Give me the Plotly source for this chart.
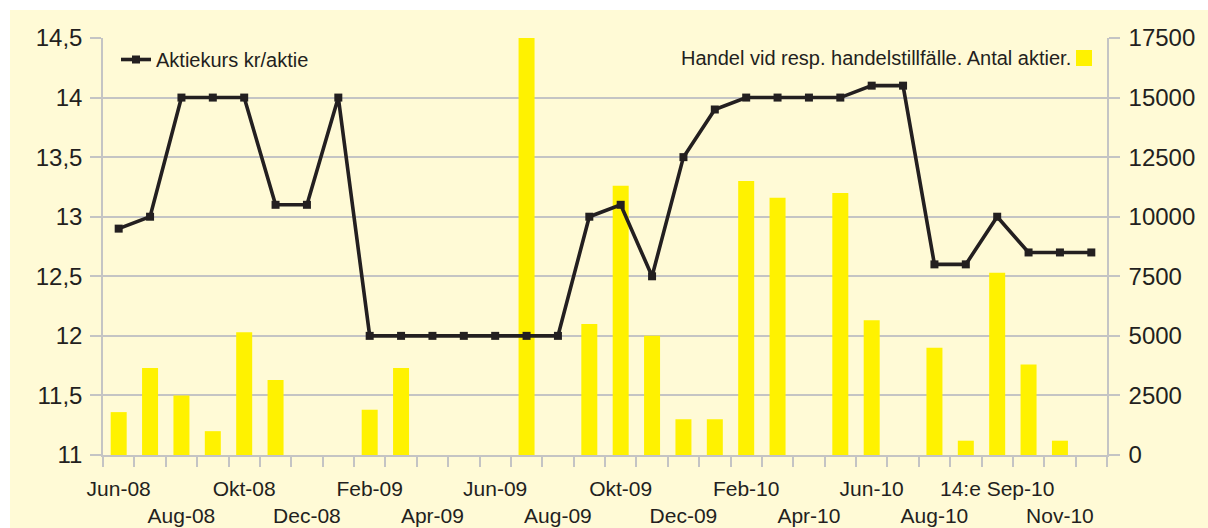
import plotly.graph_objects as go

categories = ["Jun-08", "Jul-08", "Aug-08", "Sep-08", "Okt-08", "Nov-08", "Dec-08", "Jan-09",
              "Feb-09", "Mar-09", "Apr-09", "Maj-09", "Jun-09", "Jul-09", "Aug-09", "Sep-09",
              "Okt-09", "Nov-09", "Dec-09", "Jan-10", "Feb-10", "Mar-10", "Apr-10", "Maj-10",
              "Jun-10", "Jul-10", "Aug-10", "Sep-10", "14:e Sep-10", "Okt-10", "Nov-10", "Dec-10"]

kurs = [12.9, 13.0, 14.0, 14.0, 14.0, 13.1, 13.1, 14.0,
        12.0, 12.0, 12.0, 12.0, 12.0, 12.0, 12.0, 13.0,
        13.1, 12.5, 13.5, 13.9, 14.0, 14.0, 14.0, 14.0,
        14.1, 14.1, 12.6, 12.6, 13.0, 12.7, 12.7, 12.7]

handel = [1800, 3650, 2500, 1000, 5150, 3150, None, None,
          1900, 3650, None, None, None, 17500, None, 5500,
          11300, 5000, 1500, 1500, 11500, 10800, None, 11000,
          5650, None, 4500, 600, 7650, 3800, 600, None]

line_name = "Aktiekurs kr/aktie"
bar_name = "Handel vid resp. handelstillfälle. Antal aktier."

CREAM = "#FFFAD6"
YELLOW = "#FFF200"
DARK = "#231F20"
GRID = "#C4C4C4"

xs = list(range(len(categories)))
tickvals = xs[::2]
ticktext = [(c if i % 2 == 0 else "<br>" + c) for i, c in enumerate(categories[::2])]

fig = go.Figure()
fig.add_trace(go.Bar(x=xs, y=handel, name=bar_name, marker=dict(color=YELLOW, line=dict(width=0)),
                     width=0.51, yaxis="y", showlegend=False))
fig.add_trace(go.Scatter(x=xs, y=kurs, name=line_name, mode="lines+markers",
                         line=dict(color=DARK, width=3.6),
                         marker=dict(symbol="square", size=8, color=DARK),
                         yaxis="y2"))

W, H = 1208, 528
L, R, T, B = 103, 1107, 38, 455

def px(x):
    return (x - L) / (R - L)

def py(y):
    return (B - y) / (B - T)

fig.update_layout(
    width=W, height=H,
    margin=dict(l=L, r=W - R, t=T, b=H - B, autoexpand=False),
    paper_bgcolor="white",
    plot_bgcolor=CREAM,
    separators=",.",
    font=dict(family="Liberation Sans, Arial, sans-serif", color="#231F20"),
    bargap=0.49,
    xaxis=dict(range=[-0.5, len(categories) - 0.5], tickmode="array", tickvals=tickvals,
               ticktext=ticktext, ticks="outside", ticklen=10, tickcolor="rgba(0,0,0,0)",
               tickfont=dict(size=21), showgrid=False, showline=True, linecolor=GRID,
               linewidth=1.5, zeroline=False, tickangle=0, ticklabelstandoff=4, automargin=False,
               minor=dict(tickmode="linear", tick0=0.5, dtick=1, ticks="outside", ticklen=10,
                          tickcolor=GRID, tickwidth=1.5, showgrid=False)),
    yaxis=dict(side="right", range=[0, 17500], tickmode="linear", tick0=0, dtick=2500,
               tickformat="d", ticks="outside", ticklen=11, tickcolor=GRID, tickwidth=1.5,
               tickfont=dict(size=24), showgrid=True, gridcolor=GRID, gridwidth=1.5,
               showline=True, linecolor=GRID, linewidth=1.5, zeroline=False,
               ticklabelstandoff=4, automargin=False),
    yaxis2=dict(side="left", overlaying="y", range=[11, 14.5], tickmode="linear", tick0=11,
                dtick=0.5, ticks="outside", ticklen=11, tickcolor=GRID, tickwidth=1.5,
                tickfont=dict(size=24), showgrid=False, showline=True, linecolor=GRID,
                linewidth=1.5, zeroline=False, ticklabelstandoff=3, automargin=False),
    legend=dict(x=px(116), y=py(40), xanchor="left", yanchor="top", bgcolor="rgba(0,0,0,0)",
                font=dict(size=20), itemwidth=30),
    shapes=[
        dict(type="rect", xref="paper", yref="paper", x0=px(10), x1=px(1215), y0=py(535), y1=py(10),
             fillcolor=CREAM, line=dict(width=0), layer="below"),
        dict(type="rect", xref="paper", yref="paper", x0=px(1076), x1=px(1092), y0=py(66), y1=py(50),
             fillcolor=YELLOW, line=dict(width=0)),
    ],
    annotations=[
        dict(text=bar_name, xref="paper", yref="paper", x=px(1073), y=py(58), xanchor="right",
             yanchor="middle", showarrow=False, font=dict(size=20)),
    ],
)

fig.write_html("out.html", config={"displayModeBar": False},
               post_script="document.body.style.margin='0px';document.body.style.overflow='hidden';")
